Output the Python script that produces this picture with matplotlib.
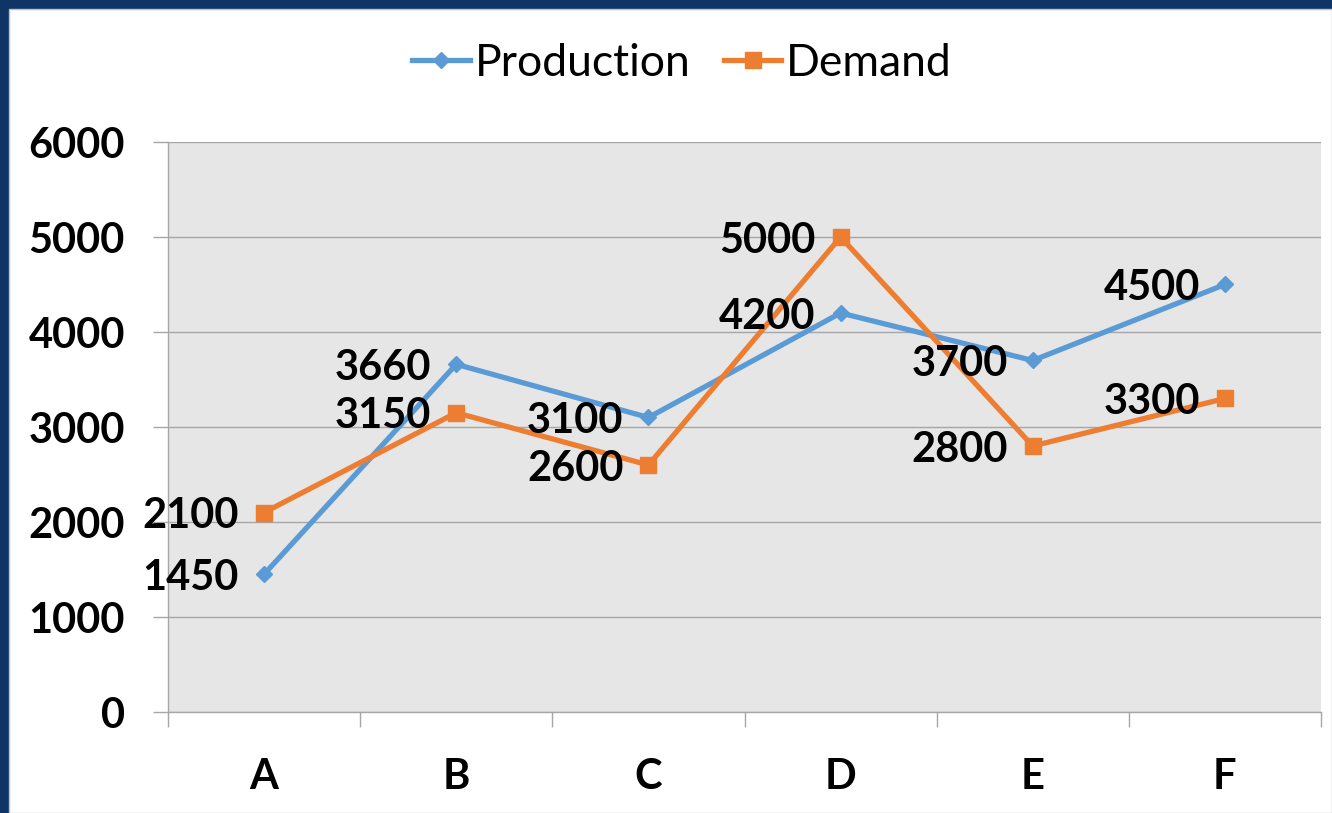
import numpy as np
import matplotlib.pyplot as plt
from matplotlib.patches import Rectangle

# chart data
categories = ['A', 'B', 'C', 'D', 'E', 'F']
production = [1450, 3660, 3100, 4200, 3700, 4500]
demand = [2100, 3150, 2600, 5000, 2800, 3300]
yticks = [0, 1000, 2000, 3000, 4000, 5000, 6000]

blue = '#5B9BD5'
orange = '#ED7D31'
grid_col = '#A6A6A6'

plt.rcParams['font.family'] = ['Lato', 'DejaVu Sans']

W, H = 1332, 813
fig = plt.figure(figsize=(W / 100, H / 100), dpi=100, facecolor='#0E3565')
# white chart area inside the dark frame
fig.patches.append(Rectangle((9 / W, 0), 1 - 9 / W, 1 - 9 / H, transform=fig.transFigure,
                             facecolor='white', edgecolor='#BFBFBF', linewidth=1, zorder=-1))

ax = fig.add_axes([168 / W, 1 - 712 / H, (1321 - 168) / W, (712 - 142) / H])
ax.set_facecolor('#E6E6E6')

x = np.arange(len(categories))
ax.plot(x, production, color=blue, lw=3.8, marker='D', ms=8, label='Production', zorder=3)
ax.plot(x, demand, color=orange, lw=3.8, marker='s', ms=11, label='Demand', zorder=3)

# data labels to the left of the points
for xi, v in zip(x, production):
    ax.annotate(str(v), (xi, v), xytext=(-25, 0), textcoords='offset pixels',
                ha='right', va='center_baseline', fontsize=30, fontweight='bold', color='black')
for xi, v in zip(x, demand):
    ax.annotate(str(v), (xi, v), xytext=(-25, 0), textcoords='offset pixels',
                ha='right', va='center_baseline', fontsize=30, fontweight='bold', color='black')

ax.set_xlim(-0.5, len(categories) - 0.5)
ax.set_ylim(0, 6000)
ax.set_yticks(yticks)
ax.set_yticklabels([str(t) for t in yticks], fontsize=30, fontweight='bold')
ax.set_xticks(x)
ax.set_xticklabels(categories, fontsize=30, fontweight='bold')
ax.set_xticks(np.arange(-0.5, len(categories)), minor=True)
ax.tick_params(axis='x', which='major', length=0, pad=33)
ax.tick_params(axis='x', which='minor', length=11, color=grid_col, width=1)
ax.tick_params(axis='y', length=11, color=grid_col, width=1, pad=20)

ax.grid(axis='y', color=grid_col, lw=1)
ax.set_axisbelow(True)
for s in ['top', 'right']:
    ax.spines[s].set_visible(False)
for s in ['left', 'bottom']:
    ax.spines[s].set_color(grid_col)
    ax.spines[s].set_linewidth(1)

fig.legend(loc='center', bbox_to_anchor=(0.512, 1 - 63 / H), ncol=2, frameon=False,
           fontsize=32, handlelength=1.3, handletextpad=0.1, columnspacing=0.75)

fig.savefig('out.png', dpi=100, facecolor=fig.get_facecolor())
